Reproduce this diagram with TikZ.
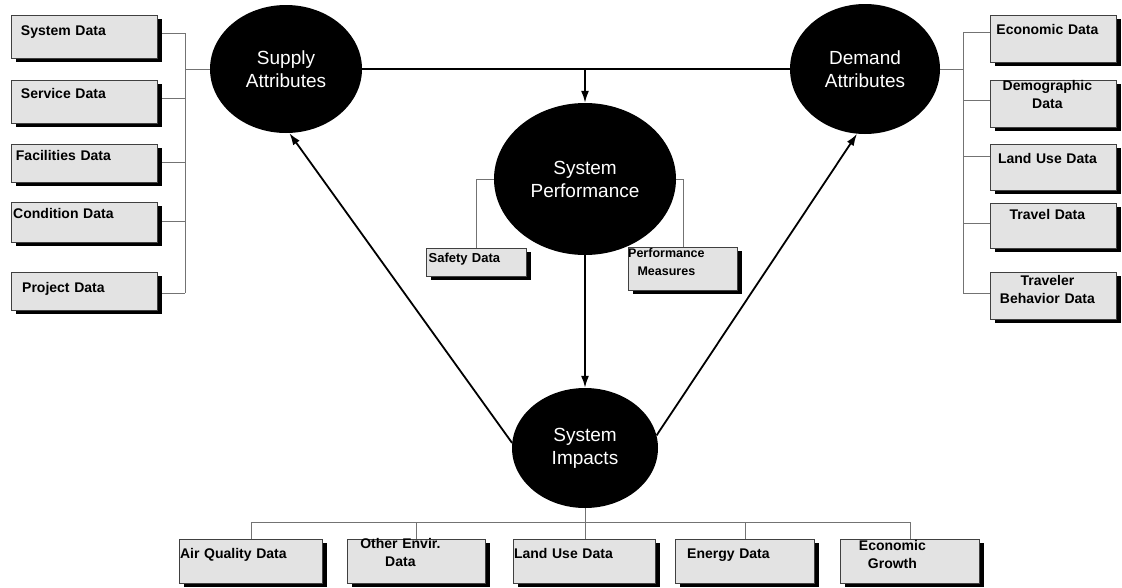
\documentclass[tikz,border=0pt]{standalone}
\usepackage{fontspec}
\setmainfont{Liberation Sans}
\usetikzlibrary{shapes.geometric,shadows,arrows.meta}
\pgfdeclarelayer{bg}
\pgfsetlayers{bg,main}
\begin{document}
\begin{tikzpicture}[x=1pt,y=-1pt,
  oval/.style={ellipse, fill=black, inner sep=0pt, text=white, align=center,
    font=\fontsize{19}{23}\selectfont},
  dbox/.style={draw=black!75, line width=0.8pt, fill=black!11, inner xsep=0pt, inner ysep=0pt,
    anchor=north west, align=left, font=\bfseries\fontsize{14}{18}\selectfont,
    drop shadow={shadow xshift=5pt, shadow yshift=-4pt, opacity=1, fill=black}},
  sbox/.style={dbox, font=\bfseries\fontsize{12.5}{18}\selectfont},
  link/.style={draw=black!55, line width=0.6pt},
  bar/.style={draw=black, line width=1.8pt},
  flow/.style={draw=black, line width=1.8pt, -{Latex[length=12pt,width=8pt]}}
]
\useasboundingbox (0,0) rectangle (1122,587);

% ovals
\node[oval, minimum width=152pt, minimum height=128pt] (supply) at (286,69) {Supply\\Attributes};
\node[oval, minimum width=150pt, minimum height=130pt] (demand) at (865,69) {Demand\\Attributes};
\node[oval, minimum width=182pt, minimum height=152pt] (perf) at (585,179) {System\\Performance};
\node[oval, minimum width=146pt, minimum height=120pt] (impacts) at (585,448) {System\\Impacts};

% left boxes
\node[dbox, text width=146pt, text height=20pt, text depth=23pt] (sysdata) at (11,15) {\makebox[104pt]{System Data}};
\node[dbox, text width=146pt, text height=18pt, text depth=25pt] (servdata) at (11,80) {\makebox[104pt]{Service Data}};
\node[dbox, text width=146pt, text height=16pt, text depth=22pt] (facdata) at (11,144) {\makebox[104pt]{Facilities Data}};
\node[dbox, text width=146pt, text height=16pt, text depth=24pt] (conddata) at (11,202) {\makebox[104pt]{Condition Data}};
\node[dbox, text width=146pt, text height=20pt, text depth=18pt] (projdata) at (11,272) {\makebox[104pt]{Project Data}};

% right boxes
\node[dbox, text width=126pt, text height=19pt, text depth=28pt] (econdata) at (990,15) {\makebox[114pt]{Economic Data}};
\node[dbox, text width=126pt, text height=10pt, text depth=37pt] (demog) at (990,80) {\makebox[114pt]{Demographic}\\\makebox[114pt]{Data}};
\node[dbox, text width=126pt, text height=19pt, text depth=27pt] (landuse) at (990,144) {\makebox[114pt]{Land Use Data}};
\node[dbox, text width=126pt, text height=16pt, text depth=29pt] (travel) at (990,203) {\makebox[114pt]{Travel Data}};
\node[dbox, text width=126pt, text height=13pt, text depth=34pt] (travbeh) at (990,272) {\makebox[114pt]{Traveler}\\\makebox[114pt]{Behavior Data}};

% bottom boxes
\node[dbox, text width=143pt, text height=19pt, text depth=25pt] (airq) at (179,539) {\makebox[108pt]{Air Quality Data}};
\node[dbox, text width=138pt, text height=9pt, text depth=35pt] (otherenv) at (347,539) {\makebox[106pt]{Other Envir.}\\\makebox[106pt]{Data}};
\node[dbox, text width=142pt, text height=19pt, text depth=25pt] (landuse2) at (513,539) {\makebox[100pt]{Land Use Data}};
\node[dbox, text width=139pt, text height=19pt, text depth=25pt] (energy) at (675,539) {\makebox[106pt]{Energy Data}};
\node[dbox, text width=139pt, text height=11pt, text depth=33pt] (econg) at (840,539) {\makebox[104pt]{Economic}\\\makebox[104pt]{Growth}};

% performance boxes
\node[sbox, font=\bfseries\fontsize{13}{18}\selectfont, text width=100pt, text height=14pt, text depth=14pt] (safety) at (426,248) {\makebox[76pt]{Safety Data}};
\node[sbox, text width=109pt, text height=10pt, text depth=33pt] (perfmeas) at (628,247) {\makebox[76pt]{Performance}\\\makebox[76pt]{Measures}};

\coordinate (lbus) at (185,0);
\coordinate (rbus) at (963,0);
\coordinate (bbus) at (0,522);
\coordinate (top) at (585,69);

\begin{pgfonlayer}{bg}
  % left tree
  \draw[link] (sysdata.east |- 0,33) -- (lbus |- 0,33);
  \draw[link] (servdata.east |- 0,98) -- (lbus |- 0,98);
  \draw[link] (facdata.east |- 0,162) -- (lbus |- 0,162);
  \draw[link] (conddata.east |- 0,221) -- (lbus |- 0,221);
  \draw[link] (projdata.east |- 0,293) -- (lbus |- 0,293);
  \draw[link] (lbus |- 0,33) -- (lbus |- 0,293);
  \draw[link] (lbus |- supply.west) -- (supply.west);
  % right tree
  \draw[link] (econdata.west |- 0,32) -- (rbus |- 0,32);
  \draw[link] (demog.west |- 0,100) -- (rbus |- 0,100);
  \draw[link] (landuse.west |- 0,156) -- (rbus |- 0,156);
  \draw[link] (travel.west |- 0,223) -- (rbus |- 0,223);
  \draw[link] (travbeh.west |- 0,293) -- (rbus |- 0,293);
  \draw[link] (rbus |- 0,32) -- (rbus |- 0,293);
  \draw[link] (demand.east) -- (rbus |- demand.east);
  % bottom tree
  \draw[link] (airq.north |- bbus) -- (econg.north |- bbus);
  \draw[link] (airq.north |- bbus) -- (airq.north);
  \draw[link] (otherenv.north |- bbus) -- (otherenv.north);
  \draw[link] (impacts.south) -- (impacts.south |- landuse2.north);
  \draw[link] (energy.north |- bbus) -- (energy.north);
  \draw[link] (econg.north |- bbus) -- (econg.north);
  % performance data
  \draw[link] (perf.west) -| (safety.north);
  \draw[link] (perf.east) -| (perfmeas.north);
  % supply - demand
  \draw[bar] (supply.east) -- (demand.west);
\end{pgfonlayer}

\draw[flow] (top) -- (top |- perf.north);
\draw[flow] (perf.south) -- (impacts.north);
\draw[flow] (impacts.176) -- (supply.-87);
\draw[flow] (impacts.10) -- (demand.-97);
\end{tikzpicture}
\end{document}
